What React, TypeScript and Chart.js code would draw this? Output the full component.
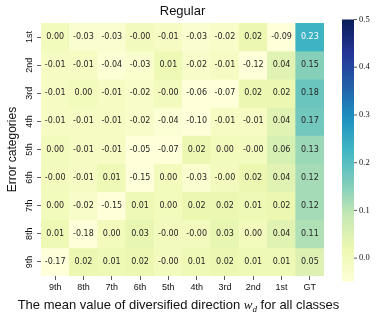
import React, { useEffect, useRef } from "react";
import { Chart, registerables } from "chart.js";

Chart.register(...registerables);

const colLabels = ["9th", "8th", "7th", "6th", "5th", "4th", "3rd", "2nd", "1st", "GT"];
const rowLabels = ["1st", "2nd", "3rd", "4th", "5th", "6th", "7th", "8th", "9th"];

const row1st = [0.0, -0.03, -0.03, -0.003, -0.01, -0.03, -0.02, 0.02, -0.09, 0.23];
const row2nd = [-0.01, -0.01, -0.04, -0.03, 0.01, -0.02, -0.01, -0.12, 0.04, 0.15];
const row3rd = [-0.01, 0.0, -0.01, -0.02, -0.003, -0.06, -0.07, 0.02, 0.02, 0.18];
const row4th = [-0.01, -0.01, -0.01, -0.02, -0.04, -0.1, -0.01, -0.01, 0.04, 0.17];
const row5th = [0.0, -0.01, -0.01, -0.05, -0.07, 0.02, 0.0, -0.003, 0.06, 0.13];
const row6th = [-0.003, -0.01, 0.01, -0.15, 0.0, -0.03, -0.003, 0.02, 0.04, 0.12];
const row7th = [0.0, -0.02, -0.15, 0.01, 0.0, 0.02, 0.02, 0.01, 0.02, 0.12];
const row8th = [0.01, -0.18, 0.0, 0.03, -0.003, -0.003, 0.03, 0.0, 0.04, 0.11];
const row9th = [-0.17, 0.02, 0.01, 0.02, -0.003, 0.01, 0.02, 0.01, 0.01, 0.05];

const values = [row1st, row2nd, row3rd, row4th, row5th, row6th, row7th, row8th, row9th];

const colorbarTicks = [0.0, 0.1, 0.2, 0.3, 0.4, 0.5];
const VMIN = -0.05;
const VMAX = 0.5;

const YLGNBU = ["#ffffd9", "#edf8b1", "#c7e9b4", "#7fcdbb", "#41b6c4", "#1d91c0", "#225ea8", "#253494", "#081d58"];

function hexToRgb(h: string) {
  return [parseInt(h.slice(1, 3), 16), parseInt(h.slice(3, 5), 16), parseInt(h.slice(5, 7), 16)];
}
function cmapRgb(v: number) {
  let t = (v - VMIN) / (VMAX - VMIN);
  t = Math.max(0, Math.min(1, t));
  const pos = t * (YLGNBU.length - 1);
  const i = Math.min(Math.floor(pos), YLGNBU.length - 2);
  const f = pos - i;
  const a = hexToRgb(YLGNBU[i]);
  const b = hexToRgb(YLGNBU[i + 1]);
  return [0, 1, 2].map((k) => Math.round(a[k] + (b[k] - a[k]) * f));
}
function cmap(v: number) {
  const c = cmapRgb(v);
  return `rgb(${c[0]},${c[1]},${c[2]})`;
}
function luminance(v: number) {
  const c = cmapRgb(v).map((x) => {
    const s = x / 255;
    return s <= 0.03928 ? s / 12.92 : Math.pow((s + 0.055) / 1.055, 2.4);
  });
  return 0.2126 * c[0] + 0.7152 * c[1] + 0.0722 * c[2];
}

const SANS = "'Liberation Sans', Arial, sans-serif";
const TEXT = "#111111";

const annotatePlugin = {
  id: "annotate",
  afterDatasetsDraw(chart: any) {
    const { ctx } = chart;
    const xs = chart.scales.x;
    const ys = chart.scales.y;
    ctx.save();
    ctx.font = "8px 'DejaVu Sans', sans-serif";
    ctx.textAlign = "center";
    ctx.textBaseline = "middle";
    values.forEach((row, r) => {
      row.forEach((v, c) => {
        ctx.fillStyle = luminance(v) > 0.408 ? "#262626" : "#ffffff";
        ctx.fillText(v.toFixed(2), xs.getPixelForValue(c), ys.getPixelForValue(r + 0.5));
      });
    });
    ctx.restore();
  },
  afterDraw(chart: any) {
    const { ctx, chartArea } = chart;
    const ys = chart.scales.y;
    ctx.save();
    // y tick labels, rotated
    ctx.fillStyle = TEXT;
    ctx.font = `9px ${SANS}`;
    ctx.textAlign = "center";
    ctx.textBaseline = "middle";
    rowLabels.forEach((lab, i) => {
      const y = ys.getPixelForValue(i + 0.5);
      ctx.save();
      ctx.translate(chartArea.left - 11.5, y);
      ctx.rotate(-Math.PI / 2);
      ctx.fillText(lab, 0, 0);
      ctx.restore();
    });

    // x axis title with math part
    const parts: [string, string, number][] = [
      ["The mean value of diversified direction ", `13px ${SANS}`, 0],
      ["w", "italic 13px 'Liberation Serif', serif", 0],
      ["d", "italic 9px 'Liberation Serif', serif", 2.5],
      [" for all classes", `13px ${SANS}`, 0],
    ];
    let total = 0;
    parts.forEach(([t, f]) => {
      ctx.font = f;
      total += ctx.measureText(t).width;
    });
    let x = (chartArea.left + chartArea.right) / 2 - 4 - total / 2;
    const baseY = 309;
    ctx.textBaseline = "alphabetic";
    ctx.textAlign = "left";
    parts.forEach(([t, f, dy]) => {
      ctx.font = f;
      ctx.fillText(t, x, baseY + dy);
      x += ctx.measureText(t).width;
    });

    // colorbar
    const cbLeft = 342;
    const cbRight = 354;
    const cbTop = 19.5;
    const cbBottom = 282;
    const toY = (v: number) => cbBottom - ((v - VMIN) / (VMAX - VMIN)) * (cbBottom - cbTop);
    const grad = ctx.createLinearGradient(0, cbBottom, 0, cbTop);
    for (let i = 0; i <= 40; i++) {
      const v = VMIN + ((VMAX - VMIN) * i) / 40;
      grad.addColorStop(i / 40, cmap(v));
    }
    ctx.fillStyle = grad;
    ctx.fillRect(cbLeft, cbTop, cbRight - cbLeft, cbBottom - cbTop);
    ctx.strokeStyle = "#333";
    ctx.lineWidth = 0.8;
    ctx.font = "8.5px 'Liberation Serif', serif";
    ctx.textBaseline = "middle";
    ctx.fillStyle = TEXT;
    colorbarTicks.forEach((v) => {
      const y = toY(v);
      ctx.beginPath();
      ctx.moveTo(cbRight, y);
      ctx.lineTo(cbRight + 3, y);
      ctx.stroke();
      ctx.fillText(v.toFixed(1), cbRight + 5, y);
    });
    ctx.restore();
  },
};

export default function App() {
  const ref = useRef<HTMLCanvasElement | null>(null);
  useEffect(() => {
    document.body.style.margin = "0";
    const canvas = ref.current!;
    const datasets = values.map((row, r) => ({
      label: rowLabels[r],
      data: row.map(() => [r, r + 1]),
      backgroundColor: row.map((v) => cmap(v)),
      borderWidth: 0,
      barPercentage: 1,
      categoryPercentage: 1,
      grouped: false,
    }));
    const chart = new Chart(canvas, {
      type: "bar",
      data: { labels: colLabels, datasets: datasets as any },
      plugins: [annotatePlugin],
      options: {
        animation: false,
        responsive: false,
        devicePixelRatio: 1,
        layout: { padding: { left: 0, right: 57, top: 0, bottom: 0 } },
        plugins: {
          legend: { display: false },
          tooltip: { enabled: false },
          title: {
            display: true,
            text: "Regular",
            fullSize: false,
            color: TEXT,
            font: { family: SANS, size: 13, weight: "normal" },
            padding: { top: 4, bottom: 3.4 },
          },
        },
        scales: {
          x: {
            type: "category",
            offset: true,
            grid: { drawOnChartArea: false, drawTicks: true, tickLength: 4, color: "#333", lineWidth: 0.8, offset: false },
            border: { display: false },
            ticks: { color: TEXT, font: { family: SANS, size: 9 }, padding: 2, maxRotation: 0, minRotation: 0 },
            afterFit: (s: any) => {
              s.height = 43;
            },
          },
          y: {
            type: "linear",
            reverse: true,
            min: 0,
            max: 9,
            afterBuildTicks: (s: any) => {
              s.ticks = rowLabels.map((_, i) => ({ value: i + 0.5 }));
            },
            grid: { drawOnChartArea: false, drawTicks: true, tickLength: 4, color: "#333", lineWidth: 0.8 },
            border: { display: false },
            ticks: {
              color: "rgba(0,0,0,0)",
              font: { family: SANS, size: 9 },
              padding: 3,
              callback: () => "",
            },
            title: {
              display: true,
              text: "Error categories",
              color: TEXT,
              font: { family: SANS, size: 12 },
              padding: { top: 5, bottom: 0 },
            },
            afterFit: (s: any) => {
              s.width = 41;
            },
          },
        },
      } as any,
    });
    return () => chart.destroy();
  }, []);
  return <canvas ref={ref} width={381} height={319} style={{ display: "block" }} />;
}
